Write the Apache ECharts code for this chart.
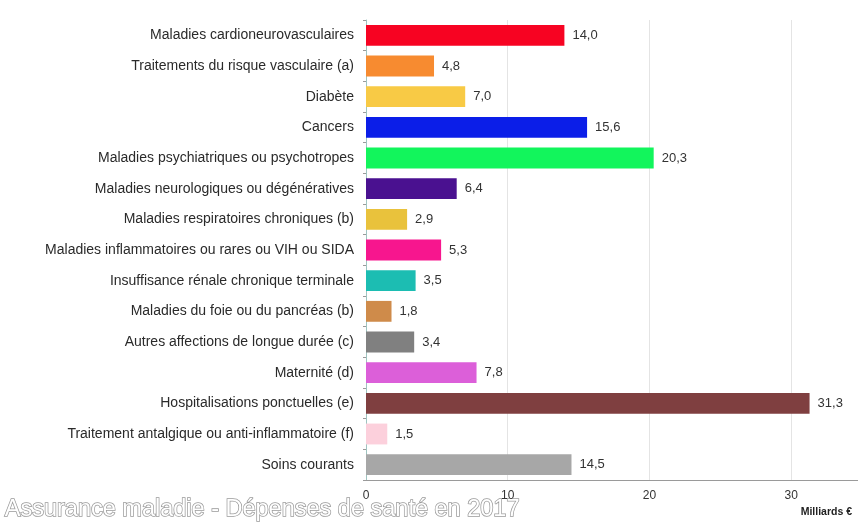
<!DOCTYPE html>
<html>
<head>
<meta charset="utf-8">
<script src="https://cdn.jsdelivr.net/npm/echarts@6/dist/echarts.min.js"></script>
<style>
  html, body { margin: 0; padding: 0; background: #fff; }
  #chart { width: 858px; height: 525px; }
</style>
</head>
<body>
<div id="chart"></div>
<script>
// categories from top to bottom
const categories = [
  'Maladies cardioneurovasculaires',
  'Traitements du risque vasculaire (a)',
  'Diabète',
  'Cancers',
  'Maladies psychiatriques ou psychotropes',
  'Maladies neurologiques ou dégénératives',
  'Maladies respiratoires chroniques (b)',
  'Maladies inflammatoires ou rares ou VIH ou SIDA',
  'Insuffisance rénale chronique terminale',
  'Maladies du foie ou du pancréas (b)',
  'Autres affections de longue durée (c)',
  'Maternité (d)',
  'Hospitalisations ponctuelles (e)',
  'Traitement antalgique ou anti-inflammatoire (f)',
  'Soins courants'
]
const values = [14.0, 4.8, 7.0, 15.6, 20.3, 6.4, 2.9, 5.3, 3.5, 1.8, 3.4, 7.8, 31.3, 1.5, 14.5]
const barColors = [
  '#f70322', '#f78b30', '#f8ca45', '#0b1ee8', '#12f55c',
  '#4a1190', '#e9c23c', '#f7168e', '#1cbdb2', '#cf8b4a',
  '#808080', '#dc5fd9', '#7f3f40', '#fcd0dc', '#a7a7a7'
]
const xTicks = [0, 10, 20, 30]

const chart = echarts.init(document.getElementById('chart'))

chart.setOption({
  animation: false,
  grid: {
    left: 366,
    top: 20,
    width: 496,
    height: 460,
    outerBoundsMode: 'none'
  },
  xAxis: {
    type: 'value',
    min: 0,
    max: 35,
    interval: 10,
    axisLine: { show: true, lineStyle: { color: '#9a9a9a', width: 1 } },
    axisTick: { show: false },
    axisLabel: {
      color: '#333',
      fontFamily: 'Liberation Sans',
      fontSize: 12,
      margin: 10,
      showMaxLabel: false,
      formatter: v => (xTicks.indexOf(v) >= 0 ? String(v) : '')
    },
    splitLine: { show: true, lineStyle: { color: '#e4e4e4', width: 1 } }
  },
  yAxis: {
    type: 'category',
    inverse: true,
    data: categories,
    axisLine: { show: true, lineStyle: { color: '#9fc4c0', width: 1 } },
    axisTick: { show: true, length: 3, lineStyle: { color: '#9a9a9a' } },
    axisLabel: {
      color: '#2a2a2a',
      fontFamily: 'Liberation Sans',
      fontSize: 14,
      margin: 12
    }
  },
  series: [{
    type: 'bar',
    barWidth: '68%',
    data: values.map((v, i) => ({ value: v, itemStyle: { color: barColors[i] } })),
    label: {
      show: true,
      position: 'right',
      distance: 8,
      color: '#333',
      fontFamily: 'Liberation Sans',
      fontSize: 13,
      formatter: p => p.value.toFixed(1).replace('.', ',')
    }
  }],
  graphic: [
    {
      type: 'text',
      left: 4,
      top: 497,
      style: {
        text: 'Assurance maladie - Dépenses de santé en 2017',
        font: '23.5px "Liberation Sans"',
        fill: '#ffffff',
        stroke: '#9a9a9a',
        lineWidth: 1.5
      }
    },
    {
      type: 'text',
      right: 6,
      top: 507,
      style: {
        text: 'Milliards €',
        font: 'bold 10.5px "Liberation Sans"',
        fill: '#222'
      }
    }
  ]
})
</script>
</body>
</html>
